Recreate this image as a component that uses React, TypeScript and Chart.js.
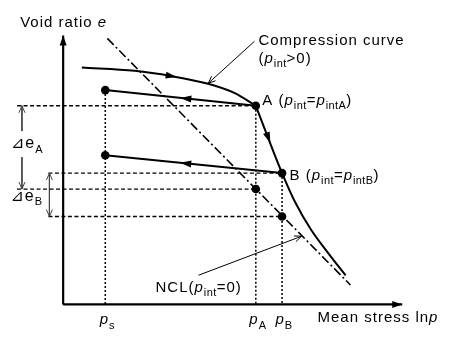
import { useEffect, useRef } from 'react';
import { Chart, registerables } from 'chart.js';

Chart.register(...registerables);

// ---- data (ln p in arbitrary units from the origin, e = void ratio in arbitrary units) ----
const stressTickLabels = ['*p*_{s}', '*p*_{A}', '*p*_{B}'];
const lnpValues = [1.22, 5.58, 6.34]; // p_s, p_A, p_B

const compUpperX = [0.54, 2.07, 3.13, 4.2, 4.97, 5.58];
const compUpperY = [8.62, 8.5, 8.31, 8.03, 7.69, 7.23];
const compLowerX = [5.58, 6.34, 6.72, 7.19, 7.67, 8.18];
const compLowerY = [7.23, 4.78, 3.72, 2.7, 1.88, 1.06];

const nclX = [1.28, 8.32];
const nclY = [9.68, 0.71];

const stateE = [7.23, 4.78]; // e at state A, state B
const unloadedE = [7.8, 5.43]; // e at p_s after unloading from A, B
const nclE = [4.2, 3.2]; // NCL e at p_A, p_B

const axisLength = [10.02, 10.04]; // x axis, y axis

// ---- layout (not data) ----
const X_MIN = -1.7045, X_MAX = 11.108, Y_MIN = -1.0638, Y_MAX = 10.922;
const DASH_LEFT_A = -1.335;
const DASH_LEFT_B = -0.426;
const DELTA_A_X = -1.193;
const DELTA_B_X = -0.398;
const DELTA_A_GAP = [6.31, 5.36];
const compPointer = [{ x: 5.54, y: 9.574 }, { x: 4.205, y: 8.05 }];
const nclPointer = [{ x: 3.92, y: 1.064 }, { x: 6.903, y: 2.482 }];

const FONT = '"Liberation Sans", Arial, "DejaVu Sans", "Noto Sans CJK JP", sans-serif';
const SIZE = 15;

type Seg = { t: string; it: boolean; sub: boolean };
function parseRich(s: string): Seg[] {
  const segs: Seg[] = [];
  const re = /\*([^*]+)\*|_\{([^}]*)\}|([^*_]+)/g;
  let m: RegExpExecArray | null;
  while ((m = re.exec(s))) {
    if (m[1] !== undefined) segs.push({ t: m[1], it: true, sub: false });
    else if (m[2] !== undefined) segs.push({ t: m[2], it: false, sub: true });
    else segs.push({ t: m[3], it: false, sub: false });
  }
  return segs;
}

function drawRich(ctx: CanvasRenderingContext2D, s: string, x: number, y: number, align: string, size: number) {
  const segs = parseRich(s);
  const setFont = (seg: Seg) => {
    const sz = seg.sub ? Math.round(size * 0.7) : size;
    ctx.font = `${seg.it ? 'italic ' : ''}${sz}px ${FONT}`;
    (ctx as any).letterSpacing = seg.sub ? '0.4px' : '1px';
  };
  const widths = segs.map((seg) => {
    setFont(seg);
    return ctx.measureText(seg.t).width;
  });
  const total = widths.reduce((a, b) => a + b, 0);
  let cx = align === 'center' ? x - total / 2 : x;
  const base = y + size * 0.36;
  ctx.fillStyle = '#000';
  ctx.textBaseline = 'alphabetic';
  ctx.textAlign = 'left';
  segs.forEach((seg, i) => {
    setFont(seg);
    ctx.fillText(seg.t, cx, seg.sub ? base + size * 0.28 : base);
    cx += widths[i];
  });
  (ctx as any).letterSpacing = '0px';
}

const pts = (xs: number[], ys: number[]) => xs.map((x, i) => ({ x, y: ys[i] }));

type ArrowSpec = { ds: string; i: number; j: number; f: number; at?: number; style: 'fill' | 'open'; len: number; w: number; tip?: boolean; color?: string };

const arrowSpecs: ArrowSpec[] = [
  { ds: 'compUpper', i: 1, j: 3, f: 0, at: 2, style: 'fill', len: 11, w: 7 },
  { ds: 'compLower', i: 0, j: 1, f: 0.478, style: 'fill', len: 11, w: 7 },
  { ds: 'unloadA', i: 0, j: 1, f: 0.465, style: 'fill', len: 11, w: 7 },
  { ds: 'unloadB', i: 0, j: 1, f: 0.545, style: 'fill', len: 11, w: 7 },
  { ds: 'axisX', i: 0, j: 1, f: 1, style: 'fill', len: 10, w: 7, tip: true },
  { ds: 'axisY', i: 0, j: 1, f: 1, style: 'fill', len: 10, w: 7, tip: true },
  { ds: 'compPointer', i: 0, j: 1, f: 1, style: 'open', len: 7, w: 6, tip: true },
  { ds: 'nclPointer', i: 0, j: 1, f: 1, style: 'open', len: 7, w: 6, tip: true },
  { ds: 'deltaA1', i: 1, j: 0, f: 1, style: 'open', len: 7, w: 6, tip: true, color: '#444' },
  { ds: 'deltaA2', i: 0, j: 1, f: 1, style: 'open', len: 7, w: 6, tip: true, color: '#444' },
  { ds: 'deltaB', i: 1, j: 0, f: 1, style: 'open', len: 7, w: 6, tip: true, color: '#444' },
  { ds: 'deltaB', i: 0, j: 1, f: 1, style: 'open', len: 7, w: 6, tip: true, color: '#444' },
];

type LabelSpec = { ds: string; idx: number; dx: number; dy: number; text: string; align?: string };
const labelSpecs: LabelSpec[] = [
  { ds: 'axisY', idx: 1, dx: -43, dy: -13.5, text: 'Void ratio *e*' },
  { ds: 'axisX', idx: 1, dx: -84.7, dy: 12.5, text: 'Mean stress ln*p*' },
  { ds: 'compPointer', idx: 0, dx: 4, dy: -1.5, text: 'Compression curve' },
  { ds: 'compPointer', idx: 0, dx: 4, dy: 16.5, text: '(*p*_{int}>0)' },
  { ds: 'points', idx: 0, dx: 6.5, dy: -6.5, text: 'A (*p*_{int}=*p*_{intA})' },
  { ds: 'points', idx: 1, dx: 7.5, dy: 1.5, text: 'B (*p*_{int}=*p*_{intB})' },
  { ds: 'nclPointer', idx: 0, dx: -43, dy: 11.5, text: 'NCL(*p*_{int}=0)' },
];

export default function App() {
  const ref = useRef<HTMLCanvasElement | null>(null);
  useEffect(() => {
    if (!ref.current) return;
    const black = '#000';
    const thinLine = (label: string, data: any[], extra: any = {}) => ({
      label,
      data,
      showLine: true,
      borderColor: black,
      backgroundColor: black,
      borderWidth: 1,
      pointRadius: 0,
      clip: false,
      ...extra,
    });
    const datasets: any[] = [
      thinLine('compUpper', pts(compUpperX, compUpperY), { borderWidth: 2, cubicInterpolationMode: 'monotone' }),
      thinLine('compLower', pts(compLowerX, compLowerY), { borderWidth: 2, cubicInterpolationMode: 'monotone' }),
      thinLine('ncl', pts(nclX, nclY), { borderWidth: 1.6, borderDash: [9, 3, 2, 3] }),
      thinLine('unloadA', [{ x: lnpValues[1], y: stateE[0] }, { x: lnpValues[0], y: unloadedE[0] }], { borderWidth: 2 }),
      thinLine('unloadB', [{ x: lnpValues[2], y: stateE[1] }, { x: lnpValues[0], y: unloadedE[1] }], { borderWidth: 2 }),
      thinLine('hA', [{ x: DASH_LEFT_A, y: stateE[0] }, { x: lnpValues[1], y: stateE[0] }], { borderWidth: 1.3, borderDash: [4, 2.5] }),
      thinLine('hB', [{ x: DASH_LEFT_B, y: stateE[1] }, { x: lnpValues[2], y: stateE[1] }], { borderWidth: 1.3, borderDash: [4, 2.5] }),
      thinLine('hNA', [{ x: DASH_LEFT_A, y: nclE[0] }, { x: lnpValues[1], y: nclE[0] }], { borderWidth: 1.3, borderDash: [4, 2.5] }),
      thinLine('hNB', [{ x: DASH_LEFT_B, y: nclE[1] }, { x: lnpValues[2], y: nclE[1] }], { borderWidth: 1.3, borderDash: [4, 2.5] }),
      thinLine('vS', [{ x: lnpValues[0], y: unloadedE[0] }, { x: lnpValues[0], y: 0 }], { borderWidth: 1.5, borderDash: [2, 2] }),
      thinLine('vA', [{ x: lnpValues[1], y: stateE[0] }, { x: lnpValues[1], y: 0 }], { borderWidth: 1.5, borderDash: [2, 2] }),
      thinLine('vB', [{ x: lnpValues[2], y: stateE[1] }, { x: lnpValues[2], y: 0 }], { borderWidth: 1.5, borderDash: [2, 2] }),
      thinLine('axisX', [{ x: 0, y: 0 }, { x: axisLength[0] - 0.2, y: 0 }], { borderWidth: 2.2 }),
      thinLine('axisY', [{ x: 0, y: 0 }, { x: 0, y: axisLength[1] - 0.25 }], { borderWidth: 2.2 }),
      thinLine('compPointer', compPointer, { borderWidth: 1 }),
      thinLine('nclPointer', nclPointer, { borderWidth: 1 }),
      thinLine('deltaA1', [{ x: DELTA_A_X, y: stateE[0] }, { x: DELTA_A_X, y: DELTA_A_GAP[0] }], { borderColor: '#444' }),
      thinLine('deltaA2', [{ x: DELTA_A_X, y: DELTA_A_GAP[1] }, { x: DELTA_A_X, y: nclE[0] }], { borderColor: '#444' }),
      thinLine('deltaB', [{ x: DELTA_B_X, y: stateE[1] }, { x: DELTA_B_X, y: nclE[1] }], { borderColor: '#444' }),
      {
        label: 'points',
        data: [
          { x: lnpValues[1], y: stateE[0] },
          { x: lnpValues[2], y: stateE[1] },
          { x: lnpValues[0], y: unloadedE[0] },
          { x: lnpValues[0], y: unloadedE[1] },
          { x: lnpValues[1], y: nclE[0] },
          { x: lnpValues[2], y: nclE[1] },
        ],
        showLine: false,
        pointRadius: 4.3,
        pointBackgroundColor: black,
        pointBorderWidth: 0,
        clip: false,
      },
    ];

    const findIdx = (chart: any, label: string) => chart.data.datasets.findIndex((d: any) => d.label === label);

    const arrowPlugin = {
      id: 'arrows',
      afterDatasetsDraw(chart: any) {
        const ctx: CanvasRenderingContext2D = chart.ctx;
        ctx.save();
        arrowSpecs.forEach((s) => {
          const meta = chart.getDatasetMeta(findIdx(chart, s.ds));
          const a = meta.data[s.i];
          const b = meta.data[s.j];
          let ux = b.x - a.x, uy = b.y - a.y;
          const L = Math.hypot(ux, uy);
          ux /= L; uy /= L;
          const nx = -uy, ny = ux;
          let px = a.x + (b.x - a.x) * s.f;
          let py = a.y + (b.y - a.y) * s.f;
          if (s.at !== undefined) {
            px = meta.data[s.at].x;
            py = meta.data[s.at].y;
          }
          const tipX = s.tip ? px : px + ux * s.len / 2;
          const tipY = s.tip ? py : py + uy * s.len / 2;
          const bx = tipX - ux * s.len, by = tipY - uy * s.len;
          const col = s.color || '#000';
          if (s.style === 'fill') {
            ctx.fillStyle = col;
            ctx.beginPath();
            ctx.moveTo(tipX, tipY);
            ctx.lineTo(bx + nx * s.w / 2, by + ny * s.w / 2);
            ctx.lineTo(bx - nx * s.w / 2, by - ny * s.w / 2);
            ctx.closePath();
            ctx.fill();
          } else {
            ctx.strokeStyle = col;
            ctx.lineWidth = 1;
            ctx.beginPath();
            ctx.moveTo(bx + nx * s.w / 2, by + ny * s.w / 2);
            ctx.lineTo(tipX, tipY);
            ctx.lineTo(bx - nx * s.w / 2, by - ny * s.w / 2);
            ctx.stroke();
          }
        });
        ctx.restore();
      },
    };

    const labelPlugin = {
      id: 'labels',
      afterDraw(chart: any) {
        const ctx: CanvasRenderingContext2D = chart.ctx;
        ctx.save();
        labelSpecs.forEach((l) => {
          const el = chart.getDatasetMeta(findIdx(chart, l.ds)).data[l.idx];
          drawRich(ctx, l.text, el.x + l.dx, el.y + l.dy, l.align || 'left', SIZE);
        });
        const xs = chart.scales.x, ys = chart.scales.y;
        stressTickLabels.forEach((t, i) => {
          drawRich(ctx, t, xs.getPixelForValue(lnpValues[i]) + 2, ys.getPixelForValue(0) + 14.5, 'center', SIZE);
        });
        const aMid = (stateE[0] + nclE[0]) / 2;
        const bMid = (stateE[1] + nclE[1]) / 2;
        drawRich(ctx, '⊿e_{A}', xs.getPixelForValue(DELTA_A_X) - 11, ys.getPixelForValue(aMid) - 5, 'left', 16);
        drawRich(ctx, '⊿e_{B}', xs.getPixelForValue(DELTA_B_X) - 39, ys.getPixelForValue(bMid) + 0, 'left', 16);
        ctx.restore();
      },
    };

    const chart = new Chart(ref.current, {
      type: 'scatter',
      data: { datasets },
      options: {
        animation: false,
        responsive: false,
        devicePixelRatio: 1,
        layout: { padding: 0 },
        events: [],
        plugins: { legend: { display: false }, tooltip: { enabled: false } },
        scales: {
          x: { type: 'linear', min: X_MIN, max: X_MAX, display: false },
          y: { type: 'linear', min: Y_MIN, max: Y_MAX, display: false },
        },
      },
      plugins: [arrowPlugin, labelPlugin],
    } as any);
    return () => chart.destroy();
  }, []);
  return (
    <div style={{ position: 'absolute', left: 0, top: 0, width: 451, height: 338, background: '#fff' }}>
      <canvas ref={ref} width={451} height={338} />
    </div>
  );
}
